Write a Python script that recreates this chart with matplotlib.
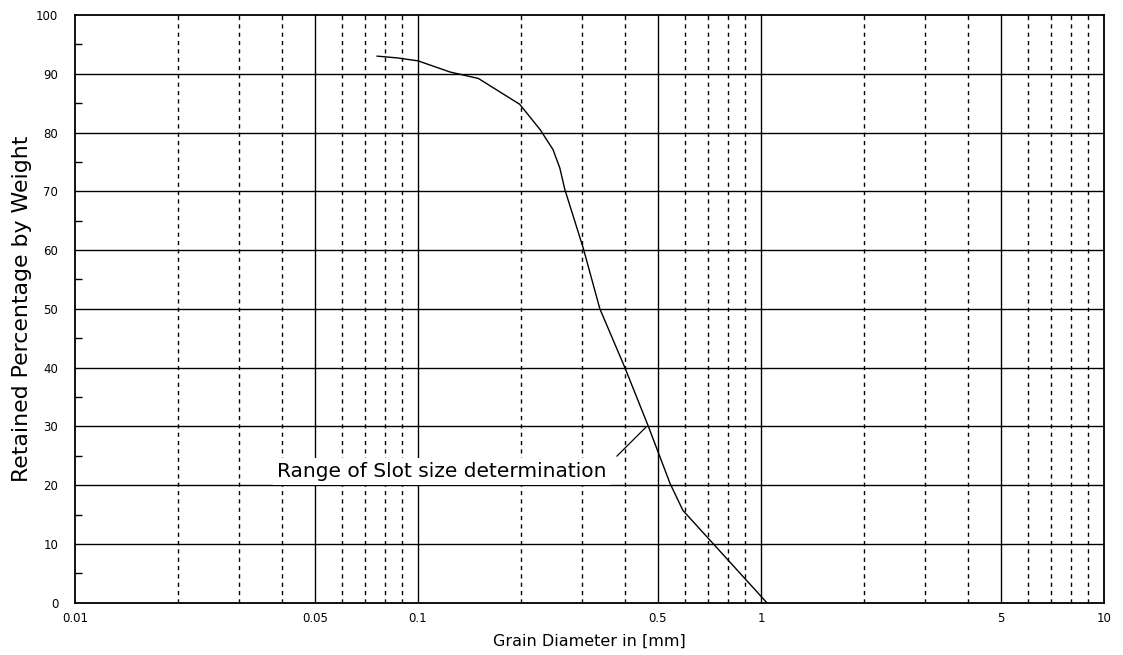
import matplotlib
matplotlib.use("Agg")
import matplotlib.pyplot as plt
import numpy as np

# sieve curve
diameter = [0.076, 0.087, 0.1, 0.124, 0.15, 0.198, 0.227, 0.2475, 0.259, 0.268, 0.303, 0.339, 0.401, 0.468, 0.543, 0.592, 1.04]
retained = [93.0, 92.7, 92.2, 90.3, 89.2, 84.8, 80.5, 77.1, 74.0, 70.3, 60.4, 50.0, 40.0, 30.2, 20.3, 15.7, 0.0]

solid_x = [0.05, 0.1, 0.5, 1, 5]
dashed_x = [0.02, 0.03, 0.04, 0.06, 0.07, 0.08, 0.09,
            0.2, 0.3, 0.4, 0.6, 0.7, 0.8, 0.9,
            2, 3, 4, 6, 7, 8, 9]
xtick_vals = [0.01, 0.05, 0.1, 0.5, 1, 5, 10]
xtick_labels = ["0.01", "0.05", "0.1", "0.5", "1", "5", "10"]
ytick_vals = list(range(0, 101, 10))
ygrid = list(range(10, 100, 10))

note = "Range of Slot size determination"

fig = plt.figure(figsize=(11.23, 6.55), dpi=100)
ax = fig.add_axes([75 / 1123, 1 - 602.7 / 655, (1104 - 75) / 1123, (602.7 - 15) / 655])
ax.set_xscale("log")
ax.set_xlim(0.01, 10)
ax.set_ylim(0, 100)

for y in ygrid:
    ax.axhline(y, color="black", lw=1.0, zorder=1)
for x in solid_x:
    ax.axvline(x, color="black", lw=1.0, zorder=1)
for x in dashed_x:
    ax.axvline(x, color="black", lw=1.0, ls=(0, (3, 3)), zorder=1)

ax.plot(diameter, retained, color="black", lw=1.0, zorder=3)

ax.text(0.1175, 22.3, note, ha="center", va="center", fontsize=14.5,
        bbox=dict(boxstyle="square,pad=0.2", fc="white", ec="none"), zorder=4)
ax.annotate("", xy=(0.468, 30.2), xytext=(0.375, 24.6),
            arrowprops=dict(arrowstyle="-", lw=0.9, color="black"), zorder=5)

ax.set_xticks(xtick_vals)
ax.set_xticklabels(xtick_labels)
ax.xaxis.set_minor_locator(matplotlib.ticker.NullLocator())
ax.set_yticks(ytick_vals)
ax.set_yticks(list(range(5, 100, 10)), minor=True)
ax.tick_params(axis="x", which="major", length=0, pad=7, labelsize=8.5)
ax.tick_params(axis="y", which="major", length=0, pad=12, labelsize=8.5)
ax.tick_params(axis="y", which="minor", direction="in", length=5, width=1)

for s in ax.spines.values():
    s.set_linewidth(1.3)
    s.set_color("black")

ax.set_xlabel("Grain Diameter in [mm]", fontsize=11.5, labelpad=6)
ax.set_ylabel("Retained Percentage by Weight", fontsize=15.8, labelpad=3)

plt.savefig("out.png", dpi=100)
